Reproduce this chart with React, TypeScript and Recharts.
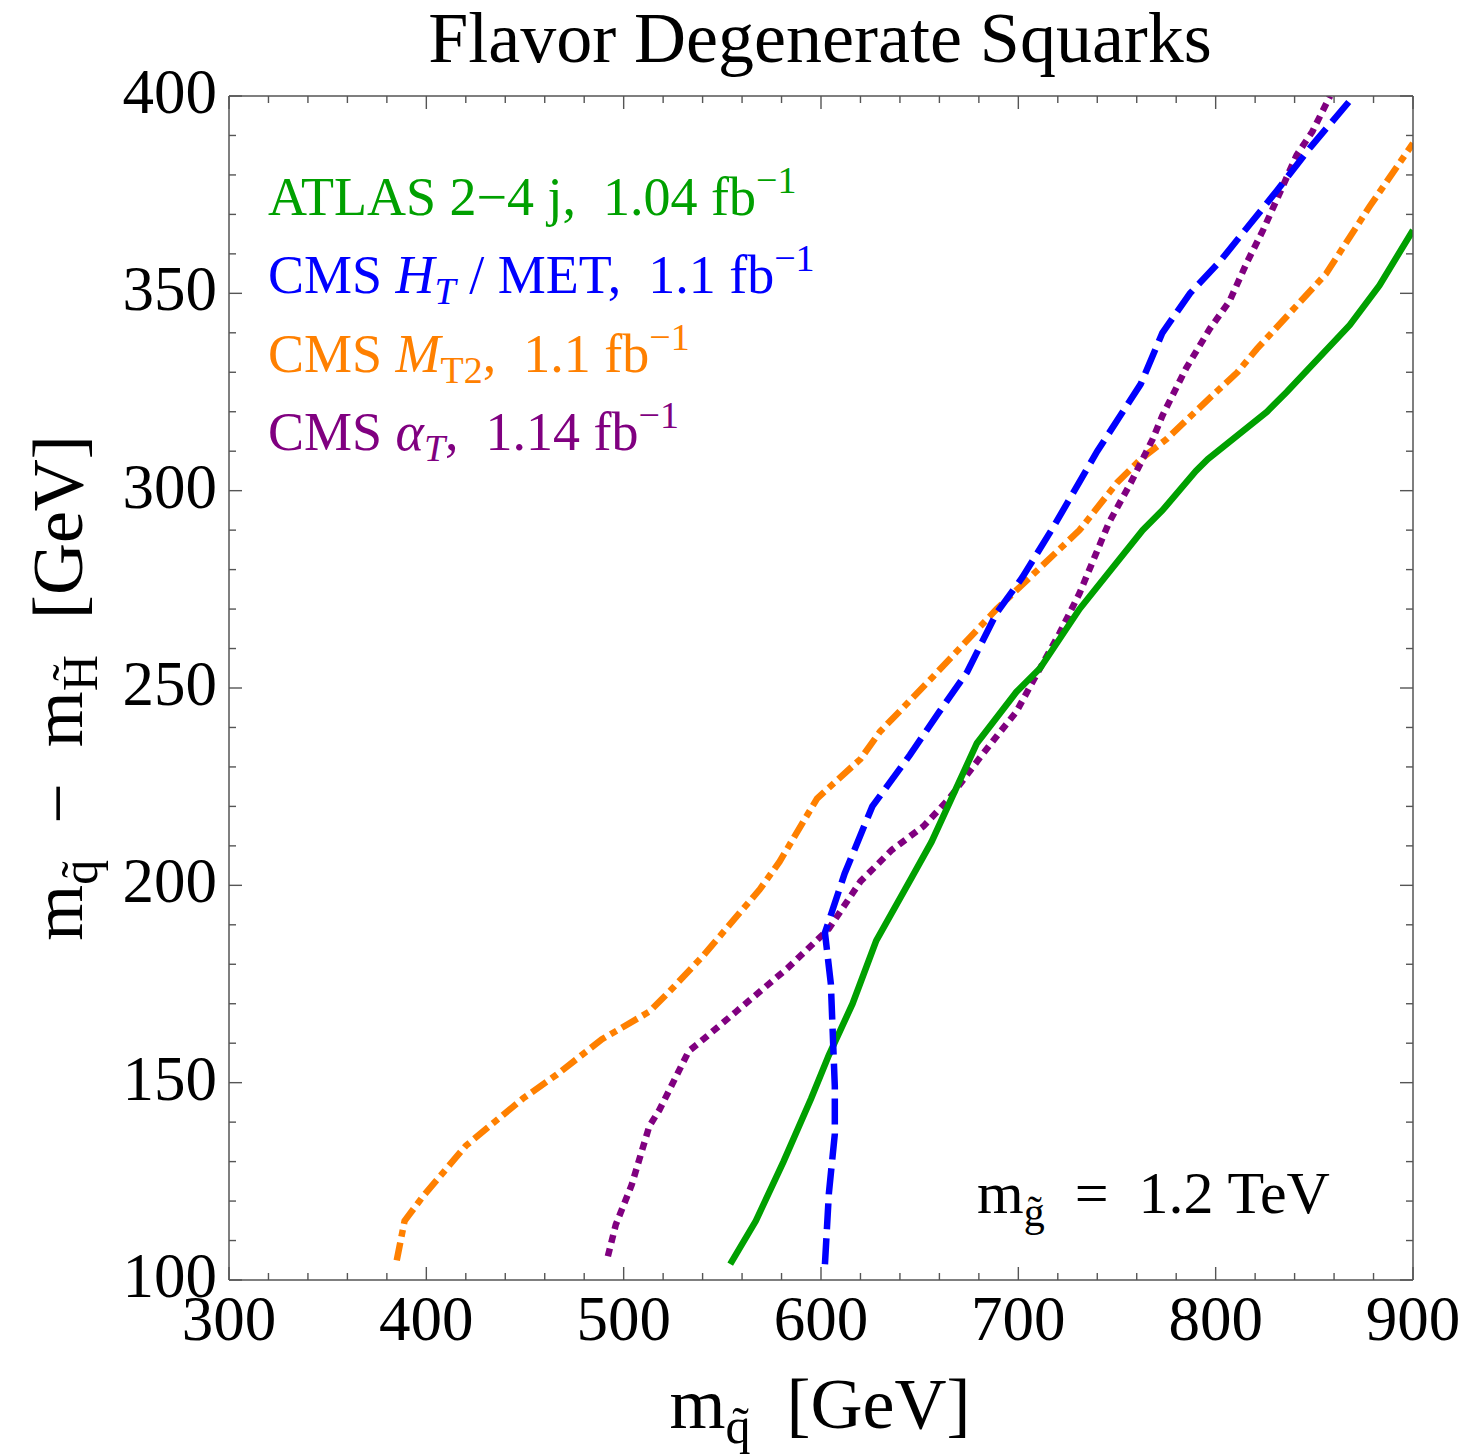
import React from 'react';
import { LineChart, Line, XAxis, YAxis, Customized } from 'recharts';

// Exclusion contours: [squark mass, squark - higgsino mass splitting] in GeV
const ATLAS_2_4J: [number, number][] = [
  [554, 104], [567, 115], [581, 130], [595, 146], [604, 157], [616, 170], [628, 186],
  [646, 202], [656, 211], [679, 236], [699, 249], [711, 255], [731, 270], [763, 290],
  [773, 295], [790, 305], [796, 308], [826, 320], [836, 325], [868, 342], [883, 352],
  [900, 366],
];

const CMS_HT_MET: [number, number][] = [
  [602, 104], [604, 122], [607, 137], [607, 149], [605, 175], [602, 188], [606, 194],
  [612, 203], [626, 220], [645, 233], [660, 244], [674, 254], [689, 269], [702, 278],
  [718, 291], [740, 310], [762, 327], [773, 340], [787, 350], [802, 358], [823, 371],
  [831, 376], [848, 387], [870, 400],
];

const CMS_MT2: [number, number][] = [
  [385, 105], [389, 115], [398, 121], [420, 134], [449, 146], [466, 152], [489, 161],
  [513, 168], [523, 173], [540, 182], [569, 199], [579, 206], [598, 222], [620, 232],
  [630, 239], [657, 253], [689, 270], [731, 290], [750, 302], [762, 308], [775, 313],
  [796, 323], [811, 330], [821, 336], [856, 355], [878, 372], [900, 388],
];

const CMS_ALPHA_T: [number, number][] = [
  [492, 106], [496, 114], [504, 124], [513, 139], [518, 143], [533, 158], [538, 160],
  [557, 168], [583, 179], [604, 189], [620, 201], [636, 209], [652, 215], [665, 222],
  [680, 232], [691, 239], [699, 244], [711, 255], [721, 264], [731, 274], [746, 292],
  [757, 302], [768, 313], [773, 319], [785, 331], [797, 341], [807, 348], [816, 358],
  [824, 366], [833, 376], [841, 385], [849, 391], [858, 400],
];

// Axis ticks
const X_TICKS = [
  300, 320, 340, 360, 380, 400, 420, 440, 460, 480, 500, 520, 540, 560, 580, 600,
  620, 640, 660, 680, 700, 720, 740, 760, 780, 800, 820, 840, 860, 880, 900,
];
const X_LABELS = [300, 400, 500, 600, 700, 800, 900];
const Y_TICKS = [
  100, 110, 120, 130, 140, 150, 160, 170, 180, 190, 200, 210, 220, 230, 240, 250,
  260, 270, 280, 290, 300, 310, 320, 330, 340, 350, 360, 370, 380, 390, 400,
];
const Y_LABELS = [100, 150, 200, 250, 300, 350, 400];

const SERIF = '"Liberation Serif", "Times New Roman", Times, serif';
const GREEN = '#00A000';
const BLUE = '#0000FF';
const ORANGE = '#FF8000';
const PURPLE = '#800080';
const FRAME = '#555555';
const LINE_W = 6.5;

const toPoints = (rows: [number, number][]) => rows.map(([m, d]) => ({ m, d }));

type Side = 'bottom' | 'top' | 'left' | 'right';

function AxisTick(props: any) {
  const { x, y, payload, side } = props as { x: number; y: number; payload: { value: number }; side: Side };
  const v = payload.value;
  const horizontal = side === 'bottom' || side === 'top';
  const major = (horizontal ? X_LABELS : Y_LABELS).includes(v);
  const len = major ? 13 : 7;
  let x2 = x;
  let y2 = y;
  if (side === 'bottom') y2 = y - len;
  if (side === 'top') y2 = y + len;
  if (side === 'left') x2 = x + len;
  if (side === 'right') x2 = x - len;
  return (
    <g>
      <line x1={x} y1={y} x2={x2} y2={y2} stroke={FRAME} strokeWidth={1.4} />
      {major && side === 'bottom' && (
        <text x={x} y={y + 60} textAnchor="middle" fontSize={63} fontFamily={SERIF} fill="#000">
          {v}
        </text>
      )}
      {major && side === 'left' && (
        <text x={x - 12} y={y + 17} textAnchor="end" fontSize={63} fontFamily={SERIF} fill="#000">
          {v}
        </text>
      )}
    </g>
  );
}

const NB = '\u00A0';

function Annotations() {
  const big = 54;
  const small = 38;
  return (
    <g fontFamily={SERIF}>
      <text x={820} y={62} textAnchor="middle" fontSize={72} fill="#000">
        Flavor Degenerate Squarks
      </text>

      <text x={268} y={215} fontSize={big} fill={GREEN}>
        {`ATLAS 2\u22124 j,${NB}${NB}1.04 fb`}
        <tspan dy={-22} fontSize={small}>{'\u22121'}</tspan>
      </text>

      <text x={268} y={293} fontSize={big} fill={BLUE}>
        {'CMS '}
        <tspan fontStyle="italic">H</tspan>
        <tspan fontStyle="italic" fontSize={small} dy={11}>T</tspan>
        <tspan dy={-11}>{` / MET,${NB}${NB}1.1 fb`}</tspan>
        <tspan dy={-22} fontSize={small}>{'\u22121'}</tspan>
      </text>

      <text x={268} y={372} fontSize={big} fill={ORANGE}>
        {'CMS '}
        <tspan fontStyle="italic">M</tspan>
        <tspan fontSize={small} dy={11}>T2</tspan>
        <tspan dy={-11}>{`,${NB}${NB}1.1 fb`}</tspan>
        <tspan dy={-22} fontSize={small}>{'\u22121'}</tspan>
      </text>

      <text x={268} y={450} fontSize={big} fill={PURPLE}>
        {'CMS '}
        <tspan fontStyle="italic">{'\u03B1'}</tspan>
        <tspan fontStyle="italic" fontSize={small} dy={11}>T</tspan>
        <tspan dy={-11}>{`,${NB}${NB}1.14 fb`}</tspan>
        <tspan dy={-22} fontSize={small}>{'\u22121'}</tspan>
      </text>

      <text x={977} y={1213} fontSize={60} fill="#000">
        m
        <tspan fontSize={42} dy={13}>{'g\u0303'}</tspan>
        <tspan dy={-13}>{`${NB}${NB}=${NB}${NB}1.2 TeV`}</tspan>
      </text>

      <text x={820} y={1428} textAnchor="middle" fontSize={72} fill="#000">
        m
        <tspan fontSize={50} dy={15}>{'q\u0303'}</tspan>
        <tspan dy={-15}>{`${NB}${NB}[GeV]`}</tspan>
      </text>

      <text
        transform="rotate(-90)"
        x={-688}
        y={82}
        textAnchor="middle"
        fontSize={72}
        fill="#000"
      >
        m
        <tspan fontSize={50} dy={15}>{'q\u0303'}</tspan>
        <tspan dy={-15}>{`${NB}${NB}\u2212${NB}${NB}m`}</tspan>
        <tspan fontSize={50} dy={15}>{'H\u0303'}</tspan>
        <tspan dy={-15}>{`${NB}${NB}[GeV]`}</tspan>
      </text>
    </g>
  );
}

export default function App() {
  return (
    <div style={{ position: 'absolute', left: 0, top: 0, width: 1470, height: 1455, background: '#fff' }}>
      <LineChart
        width={1470}
        height={1455}
        margin={{ top: 76, right: 37, bottom: 115, left: 129 }}
      >
        <XAxis
          xAxisId="b"
          type="number"
          dataKey="m"
          domain={[300, 900]}
          ticks={X_TICKS}
          interval={0}
          allowDataOverflow
          height={60}
          tickSize={0}
          tickMargin={0}
          tickLine={false}
          axisLine={{ stroke: FRAME, strokeWidth: 1.5 }}
          tick={(p: any) => <AxisTick {...p} side="bottom" />}
        />
        <XAxis
          xAxisId="t"
          orientation="top"
          type="number"
          dataKey="m"
          domain={[300, 900]}
          ticks={X_TICKS}
          interval={0}
          allowDataOverflow
          height={20}
          tickSize={0}
          tickMargin={0}
          tickLine={false}
          axisLine={{ stroke: FRAME, strokeWidth: 1.5 }}
          tick={(p: any) => <AxisTick {...p} side="top" />}
        />
        <YAxis
          yAxisId="l"
          type="number"
          dataKey="d"
          domain={[100, 400]}
          ticks={Y_TICKS}
          interval={0}
          allowDataOverflow
          width={100}
          tickSize={0}
          tickMargin={0}
          tickLine={false}
          axisLine={{ stroke: FRAME, strokeWidth: 1.5 }}
          tick={(p: any) => <AxisTick {...p} side="left" />}
        />
        <YAxis
          yAxisId="r"
          orientation="right"
          type="number"
          dataKey="d"
          domain={[100, 400]}
          ticks={Y_TICKS}
          interval={0}
          allowDataOverflow
          width={20}
          tickSize={0}
          tickMargin={0}
          tickLine={false}
          axisLine={{ stroke: FRAME, strokeWidth: 1.5 }}
          tick={(p: any) => <AxisTick {...p} side="right" />}
        />

        <Line
          xAxisId="b"
          yAxisId="l"
          data={toPoints(CMS_MT2)}
          dataKey="d"
          type="linear"
          stroke={ORANGE}
          strokeWidth={LINE_W}
          strokeDasharray="18 6 7 6"
          dot={false}
          activeDot={false}
          isAnimationActive={false}
        />
        <Line
          xAxisId="b"
          yAxisId="l"
          data={toPoints(CMS_ALPHA_T)}
          dataKey="d"
          type="linear"
          stroke={PURPLE}
          strokeWidth={LINE_W}
          strokeDasharray="8 6"
          dot={false}
          activeDot={false}
          isAnimationActive={false}
        />
        <Line
          xAxisId="b"
          yAxisId="l"
          data={toPoints(ATLAS_2_4J)}
          dataKey="d"
          type="linear"
          stroke={GREEN}
          strokeWidth={LINE_W}
          dot={false}
          activeDot={false}
          isAnimationActive={false}
        />
        <Line
          xAxisId="b"
          yAxisId="l"
          data={toPoints(CMS_HT_MET)}
          dataKey="d"
          type="linear"
          stroke={BLUE}
          strokeWidth={LINE_W}
          strokeDasharray="26 9"
          dot={false}
          activeDot={false}
          isAnimationActive={false}
        />

        <Customized component={<Annotations />} />
      </LineChart>
    </div>
  );
}
